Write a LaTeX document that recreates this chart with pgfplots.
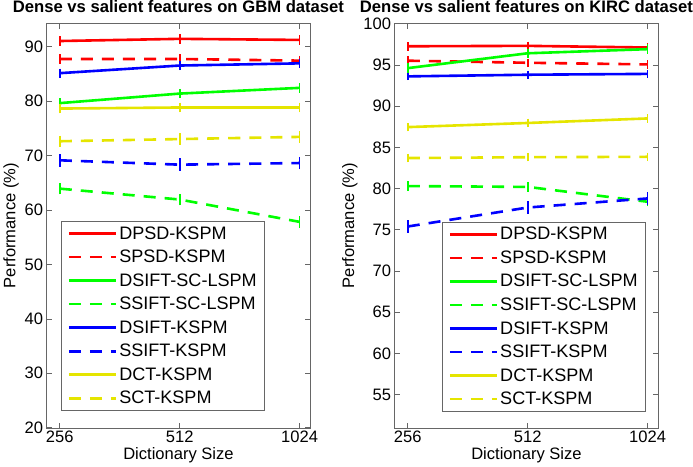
\documentclass[border=0pt]{standalone}
\usepackage{pgfplots}
\pgfplotsset{compat=1.18}
\usepackage{fontspec}
\setmainfont{Liberation Sans}
\definecolor{myred}{rgb}{1,0,0}
\definecolor{mygreen}{rgb}{0,1,0}
\definecolor{myblue}{rgb}{0,0,1}
\definecolor{myyellow}{rgb}{0.9,0.9,0}
\definecolor{axgray}{rgb}{0.4,0.4,0.4}
\pgfplotsset{
 mystyle/.style={
  width=263pt,height=403pt,scale only axis,
  xmin=-0.11,xmax=2.09,
  xtick={0,1,2},xticklabels={256,512,1024},
  font=\fontsize{16.5}{19}\selectfont,
  /pgf/number format/assume math mode=true,
  axis line style={axgray},
  tick style={axgray, line width=0.6pt},
  major tick length=5pt,
  tick align=inside,
  xlabel={Dictionary Size}, ylabel={Performance (\%)},
  xlabel style={yshift=2pt},
  ylabel style={yshift=-1pt},
  title style={font=\bfseries\fontsize{16.6}{19}\selectfont, at={(0.5,1)}, anchor=base, inner sep=0pt, yshift=5.5pt},
  legend cell align=left,
  legend style={draw=axgray, line width=0.8pt, font=\fontsize{18}{20}\selectfont, row sep=5.4pt, inner xsep=6pt, inner ysep=3pt},
  legend image code/.code={\draw[##1] (0pt,0pt) -- (47pt,0pt);},
  error bars/y dir=both,
  error bars/error bar style={solid, line width=1.8pt},
  error bars/error mark options={mark size=3pt, line width=1.8pt, solid},
 },
 sline/.style={solid, line width=2.6pt},
 dline/.style={line width=2.6pt, dash pattern=on 12pt off 9pt},
}
\begin{document}
\begin{tikzpicture}
\begin{axis}[mystyle,
  ymin=20, ymax=94.2, ytick={20,30,...,90},
  title={Dense vs salient features on GBM dataset},
  legend style={at={(0.055,0.042)}, anchor=south west}]
\addplot[myred, sline, error bars/y fixed=0.35] coordinates {(0,91.0) (1,91.4) (2,91.2)};
\addlegendentry{DPSD-KSPM}
\addplot[myred, dline, error bars/y fixed=0.3] coordinates {(0,87.7) (1,87.7) (2,87.4)};
\addlegendentry{SPSD-KSPM}
\addplot[mygreen, sline, error bars/y fixed=0.3] coordinates {(0,79.6) (1,81.35) (2,82.4)};
\addlegendentry{DSIFT-SC-LSPM}
\addplot[mygreen, dline, error bars/y fixed=0.5] coordinates {(0,63.9) (1,61.9) (2,57.8)};
\addlegendentry{SSIFT-SC-LSPM}
\addplot[myblue, sline, error bars/y fixed=0.3] coordinates {(0,85.1) (1,86.5) (2,86.9)};
\addlegendentry{DSIFT-KSPM}
\addplot[myblue, dline, error bars/y fixed=0.6] coordinates {(0,69.1) (1,68.3) (2,68.6)};
\addlegendentry{SSIFT-KSPM}
\addplot[myyellow, sline, error bars/y fixed=0.35] coordinates {(0,78.6) (1,78.8) (2,78.8)};
\addlegendentry{DCT-KSPM}
\addplot[myyellow, dline, error bars/y fixed=0.5] coordinates {(0,72.6) (1,73.0) (2,73.4)};
\addlegendentry{SCT-KSPM}
\end{axis}
\begin{axis}[mystyle, at={(347pt,0pt)},
  ymin=51, ymax=100, ytick={55,60,...,100},
  title={Dense vs salient features on KIRC dataset},
  legend style={at={(0.18,0.04)}, anchor=south west}]
\addplot[myred, sline, error bars/y fixed=0.15] coordinates {(0,97.25) (1,97.3) (2,97.1)};
\addlegendentry{DPSD-KSPM}
\addplot[myred, dline, error bars/y fixed=0.15] coordinates {(0,95.5) (1,95.25) (2,95.05)};
\addlegendentry{SPSD-KSPM}
\addplot[mygreen, sline, error bars/y fixed=0.2] coordinates {(0,94.6) (1,96.4) (2,96.9)};
\addlegendentry{DSIFT-SC-LSPM}
\addplot[mygreen, dline, error bars/y fixed=0.2] coordinates {(0,80.3) (1,80.2) (2,78.4)};
\addlegendentry{SSIFT-SC-LSPM}
\addplot[myblue, sline, error bars/y fixed=0.1] coordinates {(0,93.6) (1,93.8) (2,93.9)};
\addlegendentry{DSIFT-KSPM}
\addplot[myblue, dline, error bars/y fixed=0.4] coordinates {(0,75.4) (1,77.7) (2,78.8)};
\addlegendentry{SSIFT-KSPM}
\addplot[myyellow, sline, error bars/y fixed=0.15] coordinates {(0,87.45) (1,87.95) (2,88.5)};
\addlegendentry{DCT-KSPM}
\addplot[myyellow, dline, error bars/y fixed=0.15] coordinates {(0,83.7) (1,83.8) (2,83.85)};
\addlegendentry{SCT-KSPM}
\end{axis}
\end{tikzpicture}
\end{document}
